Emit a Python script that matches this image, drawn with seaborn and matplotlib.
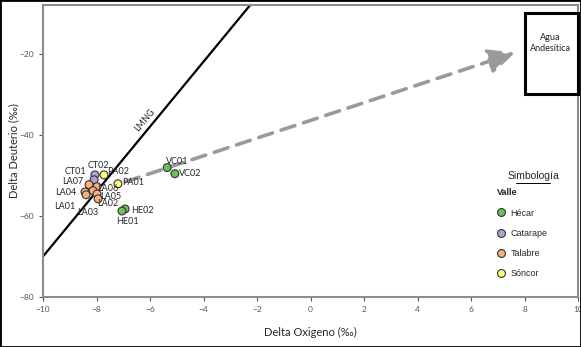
import numpy as np
import pandas as pd
import seaborn as sns
from matplotlib import pyplot as plt
from matplotlib.patches import Rectangle

# muestras: delta 18O / delta D (permil)
muestras = ['CT01', 'CT02', 'PA02', 'PA01', 'LA07', 'LA06', 'LA04', 'LA01', 'LA03', 'LA05', 'LA02',
            'HE02', 'HE01', 'VC01', 'VC02']
valle = ['Catarape', 'Catarape', 'Sóncor', 'Sóncor', 'Talabre', 'Talabre', 'Talabre', 'Talabre',
         'Talabre', 'Talabre', 'Talabre', 'Hécar', 'Hécar', 'Hécar', 'Hécar']
delta_o = [-8.06, -8.09, -7.72, -7.20, -8.28, -7.98, -8.43, -8.39, -8.13, -7.98, -7.94,
           -6.93, -7.05, -5.36, -5.07]
delta_d = [-49.9, -51.1, -49.9, -52.1, -52.3, -52.8, -54.1, -54.8, -53.8, -54.6, -55.8,
           -58.3, -58.8, -48.1, -49.6]

valles = ['Hécar', 'Catarape', 'Talabre', 'Sóncor']
colores = ['#6cc05c', '#b3a2d6', '#f7b27c', '#ffff80']

# linea meteorica (LMNG): dD = 8 d18O + 10
lmng_x = np.array([-10, 0])
lmng_y = 8 * lmng_x + 10

# tendencia hacia agua andesitica
flecha_o = [-6.93, 7.64]
flecha_d = [-51.6, -19.8]
andesitica_o = [8, 10]
andesitica_d = [-30, -10]

# desplazamiento de etiquetas (pixeles)
offsets = {'CT01': (-19, 3), 'CT02': (4, 14), 'PA02': (14, 3), 'PA01': (15, 1),
           'LA07': (-16, 3), 'LA06': (11, -2), 'LA04': (-19, -1), 'LA01': (-21, -12),
           'LA03': (-5, -22), 'LA05': (14, -3), 'LA02': (10, -5), 'HE02': (17, -2),
           'HE01': (6, -10), 'VC01': (10, 6), 'VC02': (15, 0)}


def main():
    df = pd.DataFrame({'muestra': muestras, 'Valle': valle, 'o18': delta_o, 'dD': delta_d})

    sns.set_style('white')
    plt.rcParams['font.family'] = ['Lato', 'DejaVu Sans']

    fig = plt.figure(figsize=(5.81, 3.47), dpi=100)
    ax = fig.add_axes([0.074, 0.144, 0.921, 0.842])

    ax.plot(lmng_x, lmng_y, color='black', lw=1.6, zorder=2)
    ax.text(-6.2, -36.3, 'LMNG', rotation=50, ha='center', va='center', fontsize=6.5)

    ax.annotate('', xy=(flecha_o[1], flecha_d[1]), xytext=(flecha_o[0], flecha_d[0]),
                arrowprops=dict(arrowstyle='-|>,head_length=1.6,head_width=0.75', color='#9a9a9a',
                                lw=2.6, linestyle=(0, (4, 2.5)), shrinkA=0, shrinkB=0), zorder=1)

    sns.scatterplot(data=df, x='o18', y='dD', hue='Valle', hue_order=valles,
                    palette=dict(zip(valles, colores)), s=32, edgecolor='#333333', linewidth=0.8,
                    ax=ax, zorder=3)

    for _, r in df.iterrows():
        ax.annotate(r['muestra'], (r['o18'], r['dD']), xytext=offsets[r['muestra']],
                    textcoords='offset pixels', ha='center', va='center', fontsize=6.5)

    ax.add_patch(Rectangle((andesitica_o[0], andesitica_d[0]), andesitica_o[1] - andesitica_o[0],
                           andesitica_d[1] - andesitica_d[0], fill=False, ec='black', lw=2.2,
                           zorder=4, clip_on=False))
    ax.text(np.mean(andesitica_o) - 0.03, np.mean(andesitica_d) + 2.5, 'Agua\nAndesítica',
            ha='center', va='center', fontsize=6.5, linespacing=1.3)

    ax.set_xlim(-10, 10)
    ax.set_ylim(-80, -8)
    ax.set_xticks(np.arange(-10, 11, 2))
    ax.set_yticks([-80, -60, -40, -20])
    ax.tick_params(labelsize=6, colors='#555555', length=3, direction='out', bottom=True, left=True)
    for s in ax.spines.values():
        s.set_color('#8c8c8c')
        s.set_linewidth(1.5)
    ax.set_xlabel('Delta Oxigeno (‰)', fontsize=8, labelpad=10)
    ax.set_ylabel('Delta Deuterio (‰)', fontsize=8, labelpad=0)

    leg = ax.legend(title='Valle', loc='upper left', bbox_to_anchor=(0.833, 0.40), frameon=False,
                    prop={'family': 'Liberation Sans', 'size': 6.5}, handletextpad=0.5,
                    handlelength=1.0, labelspacing=1.25, markerscale=1.0)
    leg.get_title().set_fontproperties({'family': 'Liberation Sans', 'size': 6.5, 'weight': 'bold'})
    leg._legend_box.align = 'left'
    ax.text(0.916, 0.414, 'Simbología', transform=ax.transAxes, ha='center', va='center',
            fontsize=7.5, family='Liberation Sans')
    ax.plot([0.884, 0.948], [0.39, 0.39], transform=ax.transAxes, color='black', lw=0.7)

    fig.patches.append(Rectangle((0, 0), 1, 1, transform=fig.transFigure, fill=False,
                                 ec='black', lw=2))

    fig.savefig('out.png', dpi=100)


if __name__ == '__main__':
    main()
